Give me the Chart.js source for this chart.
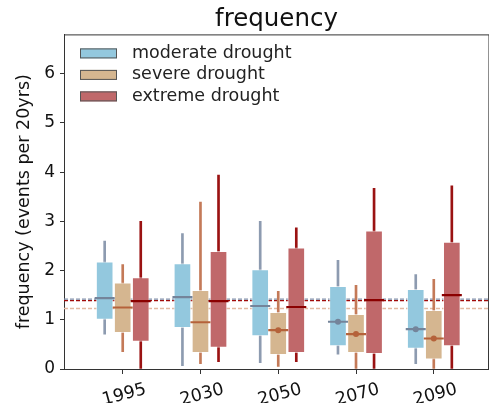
<!DOCTYPE html>
<html>
<head>
<meta charset="utf-8">
<script src="https://cdn.jsdelivr.net/npm/chart.js@4.4.1/dist/chart.umd.min.js"></script>
<style>
  html, body { margin: 0; padding: 0; background: #fff; }
  #wrap { width: 489px; height: 403px; position: relative; }
</style>
</head>
<body>
<div id="wrap"><canvas id="freqChart"></canvas></div>
<script>
const years = ['1995', '2030', '2050', '2070', '2090'];
const yTicks = [0, 1, 2, 3, 4, 5, 6];

// moderate drought
const modLow  = [0.71, 0.07, 0.13, 0.30, 0.11];
const modQ1   = [1.01, 0.84, 0.67, 0.47, 0.42];
const modMed  = [1.44, 1.46, 1.28, 0.96, 0.81];
const modQ3   = [2.18, 2.14, 2.02, 1.68, 1.62];
const modHigh = [2.60, 2.75, 3.00, 2.21, 1.92];
const modDots = [null, null, null, 0.96, 0.81];

// severe drought
const sevLow  = [0.35, 0.11, 0.05, 0.00, 0.00];
const sevQ1   = [0.74, 0.33, 0.29, 0.33, 0.20];
const sevMed  = [1.25, 0.95, 0.79, 0.71, 0.62];
const sevQ3   = [1.75, 1.60, 1.15, 1.11, 1.19];
const sevHigh = [2.12, 3.39, 1.58, 1.70, 1.82];
const sevDots = [null, null, 0.79, 0.71, 0.62];

// extreme drought
const extLow  = [0.00, 0.15, 0.15, 0.00, 0.00];
const extQ1   = [0.56, 0.44, 0.33, 0.31, 0.47];
const extMed  = [1.38, 1.38, 1.26, 1.40, 1.50];
const extQ3   = [1.86, 2.39, 2.46, 2.81, 2.58];
const extHigh = [3.00, 3.94, 2.87, 3.67, 3.72];
const extDots = [null, null, null, null, null];

// reference (dashed) levels
const refLevels = [1.42, 1.23, 1.39];

const xMin = -0.755;
const xMax = 4.71;

const series = [
  { name: 'moderate drought', low: modLow, q1: modQ1, med: modMed, q3: modQ3, high: modHigh, dots: modDots,
    ref: refLevels[0], shift: -0.232, fill: '#93c8de', line: '#74849a', whisker: '#8d9bb0', dash: '#8190aa' },
  { name: 'severe drought', low: sevLow, q1: sevQ1, med: sevMed, q3: sevQ3, high: sevHigh, dots: sevDots,
    ref: refLevels[1], shift: 0, fill: '#d5b690', line: '#b5623a', whisker: '#c47a58', dash: '#e2b9a2' },
  { name: 'extreme drought', low: extLow, q1: extQ1, med: extMed, q3: extQ3, high: extHigh, dots: extDots,
    ref: refLevels[2], shift: 0.232, fill: '#c0686a', line: '#8b0000', whisker: '#9a1212', dash: '#a00a0a' }
];

const datasets = [];
series.forEach(s => {
  datasets.push({
    type: 'line',
    data: [{ x: xMin, y: s.ref }, { x: xMax, y: s.ref }],
    borderColor: s.dash,
    borderWidth: 1.4,
    borderDash: [4, 2],
    pointRadius: 0,
    order: 5
  });
  datasets.push({
    type: 'bar',
    data: years.map((y, i) => ({ x: i + s.shift, y: [s.low[i], s.high[i]] })),
    backgroundColor: s.whisker,
    borderWidth: 0,
    barThickness: 2,
    grouped: false,
    order: 4
  });
  datasets.push({
    type: 'bar',
    data: years.map((y, i) => ({ x: i + s.shift, y: [s.q1[i], s.q3[i]] })),
    backgroundColor: s.fill,
    borderColor: 'rgba(255,255,255,0.6)',
    borderWidth: 1,
    borderSkipped: false,
    barThickness: 17,
    grouped: false,
    order: 3
  });
  datasets.push({
    type: 'scatter',
    data: years.map((y, i) => ({ x: i + s.shift, y: s.med[i] })),
    pointStyle: 'line',
    pointRadius: 10,
    borderColor: s.line,
    borderWidth: 2.2,
    order: 2
  });
  datasets.push({
    type: 'scatter',
    data: years.map((y, i) => ({ x: i + s.shift, y: s.dots[i] })).filter(d => d.y !== null),
    pointStyle: 'circle',
    pointRadius: 3,
    backgroundColor: s.line,
    borderWidth: 0,
    order: 1
  });
});

const frameAndLegend = {
  id: 'frameAndLegend',
  afterDraw(chart) {
    const { ctx, chartArea } = chart;
    ctx.save();
    ctx.strokeStyle = '#333';
    ctx.lineWidth = 1;
    ctx.beginPath();
    ctx.moveTo(chartArea.left, chartArea.top + 0.5);
    ctx.lineTo(chartArea.right, chartArea.top + 0.5);
    ctx.lineTo(chartArea.right - 0.5, chartArea.bottom);
    ctx.stroke();

    ctx.font = '17.5px "DejaVu Sans"';
    ctx.textBaseline = 'middle';
    series.forEach((s, i) => {
      const x = chartArea.left + 16;
      const y = chartArea.top + 19 + i * 21.5;
      ctx.fillStyle = s.fill;
      ctx.fillRect(x, y - 5, 37, 10);
      ctx.strokeStyle = '#555';
      ctx.strokeRect(x + 0.5, y - 4.5, 36, 9);
      ctx.fillStyle = '#222';
      ctx.fillText(s.name, x + 52, y);
    });
    ctx.restore();
  }
};

Chart.defaults.font.family = '"DejaVu Sans", sans-serif';
Chart.defaults.color = '#222';

new Chart(document.getElementById('freqChart'), {
  type: 'bar',
  data: { datasets },
  options: {
    responsive: true,
    maintainAspectRatio: false,
    animation: false,
    events: [],
    layout: { autoPadding: false, padding: { left: 14, right: 0, top: 0, bottom: 0 } },
    plugins: {
      legend: { display: false },
      tooltip: { enabled: false },
      title: {
        display: true,
        text: 'frequency',
        fullSize: false,
        color: '#111',
        font: { size: 24.5, weight: 'normal' },
        padding: { top: 5, bottom: 0 }
      }
    },
    scales: {
      x: {
        type: 'linear',
        min: xMin,
        max: xMax,
        offset: false,
        afterBuildTicks: scale => { scale.ticks = years.map((y, i) => ({ value: i })); },
        afterFit: scale => { scale.height = 34; scale.paddingLeft = 0; scale.paddingRight = 0; },
        grid: { display: true, offset: false, drawOnChartArea: false, tickLength: 5, tickColor: '#333' },
        border: { color: '#333', width: 1 },
        ticks: {
          callback: v => years[v],
          minRotation: 15,
          maxRotation: 15,
          labelOffset: 23,
          padding: 5,
          color: '#111',
          font: { size: 17.5 }
        }
      },
      y: {
        min: 0,
        max: 6.8,
        afterBuildTicks: scale => { scale.ticks = yTicks.map(v => ({ value: v })); },
        afterFit: scale => { scale.width = 50; },
        grid: { display: true, drawOnChartArea: false, tickLength: 4, tickColor: '#333' },
        border: { color: '#333', width: 1 },
        ticks: { padding: 5, color: '#111', font: { size: 17 } },
        title: {
          display: true,
          text: 'frequency (events per 20yrs)',
          color: '#111',
          font: { size: 17.5 },
          padding: { top: 0, bottom: 8 }
        }
      }
    }
  },
  plugins: [frameAndLegend]
});
</script>
</body>
</html>
